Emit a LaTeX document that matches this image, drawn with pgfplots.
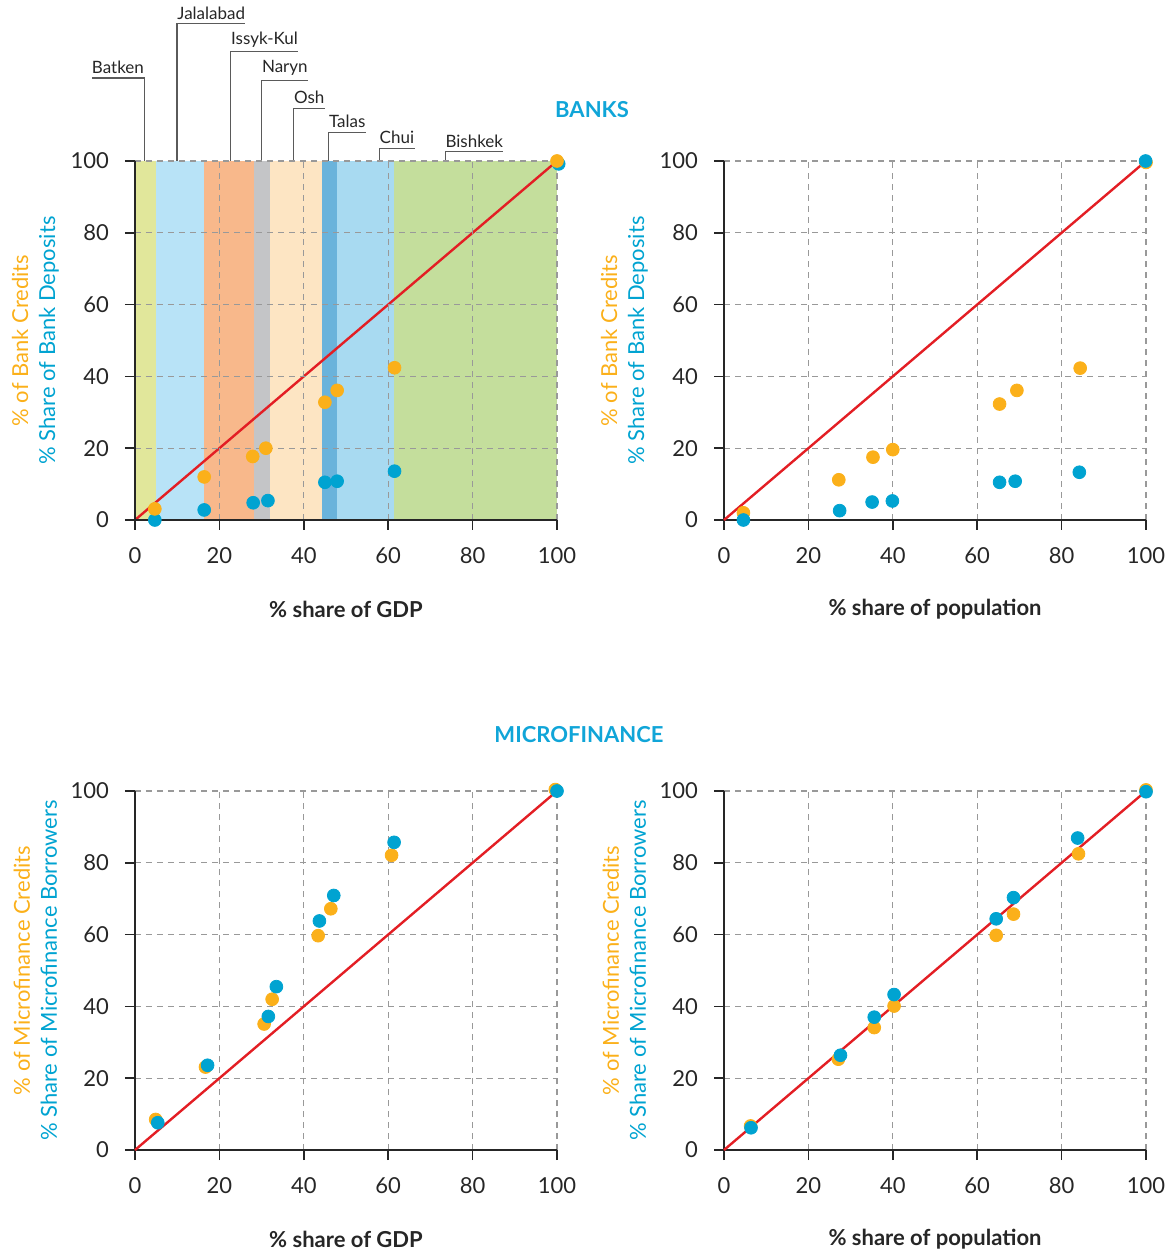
\documentclass[border=0pt]{standalone}
\usepackage{fontspec}
\setmainfont{Lato}
\usepackage{pgfplots}
\pgfplotsset{compat=1.18}
\definecolor{cOr}{HTML}{FBB01A}
\definecolor{cBl}{HTML}{00A3D1}
\definecolor{cRed}{HTML}{E31E24}
\definecolor{cTitle}{HTML}{10A5D8}
\definecolor{bBat}{HTML}{E1E79B}
\definecolor{bJal}{HTML}{B8E3F7}
\definecolor{bIss}{HTML}{F8B88B}
\definecolor{bNar}{HTML}{C4C5C7}
\definecolor{bOsh}{HTML}{FDE5C3}
\definecolor{bTal}{HTML}{6AB3DB}
\definecolor{bChu}{HTML}{A8DAF1}
\definecolor{bBis}{HTML}{C4DE9C}
\definecolor{cLine}{HTML}{5A5A5A}
\pgfplotsset{
 myax/.style={
  scale only axis, width=211pt, height=179.5pt,
  xmin=0,xmax=100,ymin=0,ymax=100,
  xtick={0,20,...,100}, ytick={0,20,...,100},
  axis x line*=bottom, axis y line*=left,
  x axis line style={-}, y axis line style={-},
  axis line style={line width=0.8pt, color=black!85},
  tick align=outside, major tick length=5pt,
  tick style={line width=0.8pt, color=black!85},
  grid=major,
  major grid style={dash pattern=on 3pt off 2.5pt, color=gray!80, line width=0.6pt},
  tick label style={font=\fontsize{11}{13}\selectfont, text=black!85},
  xticklabel style={yshift=-5pt},
  yticklabel style={xshift=-4.5pt},
  /pgf/number format/assume math mode=true,
  clip=false,
  xlabel style={at={(axis description cs:0.5,-0.248)}, anchor=center, inner sep=0pt, font=\bfseries\fontsize{11}{13}\selectfont, text=black!85},
  ylabel style={at={(axis description cs:-0.236,0.5)}, anchor=center, align=center, inner sep=0pt, font=\fontsize{11}{13.5}\selectfont},
 },
 dotO/.style={only marks, mark=*, mark size=3.2pt, color=cOr},
 dotB/.style={only marks, mark=*, mark size=3.2pt, color=cBl},
 diag/.style={no marks, color=cRed, line width=1.2pt},
 band/.style={draw=none, fill=#1, forget plot},
}
\newcommand{\annfont}{\fontsize{8.5}{10}\selectfont}
\begin{document}
\begin{tikzpicture}
% ---------------- top left
\begin{axis}[myax, axis on top, at={(0pt,0pt)}, anchor=south west,
  xlabel={\% share of GDP},
  ylabel={\textcolor{cOr}{\% of Bank Credits}\\\textcolor{cBl}{\% Share of Bank Deposits}}]
\addplot[band=bBat] coordinates {(0,100) (5.0,100)} \closedcycle;
\addplot[band=bJal] coordinates {(5.0,100) (16.4,100)} \closedcycle;
\addplot[band=bIss] coordinates {(16.4,100) (28.1,100)} \closedcycle;
\addplot[band=bNar] coordinates {(28.1,100) (32.0,100)} \closedcycle;
\addplot[band=bOsh] coordinates {(32.0,100) (44.3,100)} \closedcycle;
\addplot[band=bTal] coordinates {(44.3,100) (47.8,100)} \closedcycle;
\addplot[band=bChu] coordinates {(47.8,100) (61.4,100)} \closedcycle;
\addplot[band=bBis] coordinates {(61.4,100) (100,100)} \closedcycle;
\addplot[dotB] coordinates {(4.7,0) (16.4,2.8) (28.0,4.8) (31.5,5.4) (45.0,10.5) (47.9,10.8) (61.5,13.6) (100.4,99.2)};
\addplot[dotO] coordinates {(4.7,3.1) (16.4,12.0) (27.9,17.7) (31.0,20.0) (45.0,32.8) (47.9,36.1) (61.5,42.4)};
\addplot[diag] coordinates {(0,0) (100,100)};
\addplot[dotO] coordinates {(100,100)};
% annotations
\node[anchor=south east, inner xsep=0pt, inner ysep=2pt, font=\annfont, text=black!85] (a1) at (axis cs:2.2,123.1) {Batken};
\draw[cLine, line width=0.6pt] (axis cs:2.2,100) -- (a1.south east) -- (a1.south west);
\node[anchor=south west, inner xsep=0pt, inner ysep=2pt, font=\annfont, text=black!85] (a2) at (axis cs:9.95,138.2) {Jalalabad};
\draw[cLine, line width=0.6pt] (axis cs:9.95,100) -- (a2.south west) -- (a2.south east);
\node[anchor=south west, inner xsep=0pt, inner ysep=2pt, font=\annfont, text=black!85] (a3) at (axis cs:22.7,130.4) {Issyk-Kul};
\draw[cLine, line width=0.6pt] (axis cs:22.7,100) -- (a3.south west) -- (a3.south east);
\node[anchor=south west, inner xsep=0pt, inner ysep=2pt, font=\annfont, text=black!85] (a4) at (axis cs:30.0,122.5) {Naryn};
\draw[cLine, line width=0.6pt] (axis cs:30.0,100) -- (a4.south west) -- (a4.south east);
\node[anchor=south west, inner xsep=0pt, inner ysep=2pt, font=\annfont, text=black!85] (a5) at (axis cs:37.6,114.7) {Osh};
\draw[cLine, line width=0.6pt] (axis cs:37.6,100) -- (a5.south west) -- (a5.south east);
\node[anchor=south west, inner xsep=0pt, inner ysep=2pt, font=\annfont, text=black!85] (a6) at (axis cs:45.9,108.0) {Talas};
\draw[cLine, line width=0.6pt] (axis cs:45.9,100) -- (a6.south west) -- (a6.south east);
\node[anchor=south west, inner xsep=0pt, inner ysep=2pt, font=\annfont, text=black!85] (a7) at (axis cs:57.9,103.5) {Chui};
\draw[cLine, line width=0.6pt] (axis cs:57.9,100) -- (a7.south west) -- (a7.south east);
\node[anchor=south west, inner xsep=0pt, inner ysep=2pt, font=\annfont, text=black!85] (a8) at (axis cs:73.5,102.6) {Bishkek};
\draw[cLine, line width=0.6pt] (axis cs:73.5,100) -- (a8.south west) -- (a8.south east);
\node[font=\bfseries\fontsize{11}{13}\selectfont, text=cTitle] at (axis cs:108.3,114.2) {BANKS};
\end{axis}
% ---------------- top right
\begin{axis}[myax, at={(294.5pt,0pt)}, anchor=south west,
  xlabel={\% share of population},
  ylabel={\textcolor{cOr}{\% of Bank Credits}\\\textcolor{cBl}{\% Share of Bank Deposits}}]
\addplot[dotO] coordinates {(4.6,2.0) (27.2,11.2) (35.3,17.5) (40.0,19.6) (65.3,32.3) (69.4,36.1) (84.4,42.3) (100,99.6)};
\addplot[dotB] coordinates {(4.6,0) (27.4,2.6) (35.1,5.0) (39.9,5.3) (65.3,10.5) (69.0,10.8) (84.2,13.3) (99.9,100)};
\addplot[diag] coordinates {(0,0) (100,100)};
\end{axis}
% ---------------- bottom left
\begin{axis}[myax, at={(0pt,-315pt)}, anchor=south west,
  xlabel={\% share of GDP},
  ylabel={\textcolor{cOr}{\% of Microfinance Credits}\\\textcolor{cBl}{\% Share of Microfinance Borrowers}}]
\addplot[dotO] coordinates {(4.9,8.5) (16.7,23.1) (30.6,35.1) (32.5,42.0) (43.4,59.7) (46.4,67.2) (60.8,82.1) (99.6,100.4)};
\addplot[dotB] coordinates {(5.4,7.6) (17.2,23.6) (31.6,37.2) (33.5,45.5) (43.7,63.8) (47.1,70.9) (61.4,85.7) (100,100)};
\addplot[diag] coordinates {(0,0) (100,100)};
\node[font=\bfseries\fontsize{11}{13}\selectfont, text=cTitle] at (axis cs:105.2,115.6) {MICROFINANCE};
\end{axis}
% ---------------- bottom right
\begin{axis}[myax, at={(294.5pt,-315pt)}, anchor=south west,
  xlabel={\% share of population},
  ylabel={\textcolor{cOr}{\% of Microfinance Credits}\\\textcolor{cBl}{\% Share of Microfinance Borrowers}}]
\addplot[dotO] coordinates {(6.3,6.7) (27.1,25.3) (35.6,34.1) (40.3,40.1) (64.5,59.8) (68.6,65.7) (84.0,82.5) (100,100.3)};
\addplot[dotB] coordinates {(6.4,6.2) (27.6,26.4) (35.6,37.0) (40.3,43.3) (64.5,64.4) (68.6,70.3) (83.8,86.9) (100,99.8)};
\addplot[diag] coordinates {(0,0) (100,100)};
\end{axis}
\path (-67.5pt,-365.5pt) rectangle (517.5pt,260pt);
\end{tikzpicture}
\end{document}
